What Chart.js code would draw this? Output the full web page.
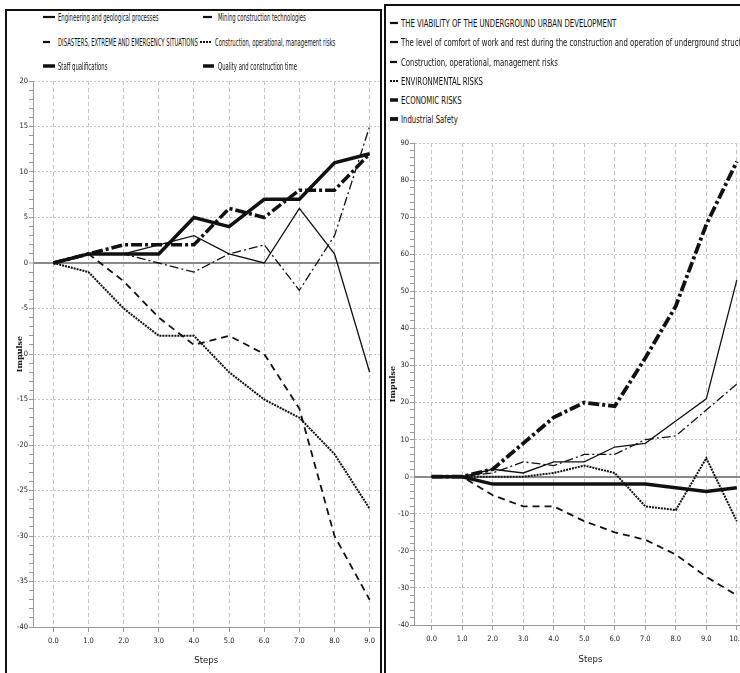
<!DOCTYPE html>
<html>
<head>
<meta charset="utf-8">
<script src="https://cdn.jsdelivr.net/npm/chart.js@4.4.0/dist/chart.umd.min.js"></script>
<style>
html, body { margin: 0; padding: 0; background: #fff; overflow: hidden; width: 740px; height: 673px; }
.panel { position: absolute; border: 2px solid #111; box-sizing: border-box; }
#panelL { left: 5px; top: 9px; width: 377px; height: 700px; }
#panelR { left: 384px; top: 4px; width: 420px; height: 700px; }
canvas { position: absolute; }
#chartL { left: 7px; top: 70px; }
#chartR { left: 387px; top: 130px; }
.leg { position: absolute; font-family: 'Liberation Sans Narrow', 'DejaVu Sans Condensed', sans-serif; color: #111; white-space: nowrap; }
.leg span { position: absolute; transform-origin: left center; }
.leg svg { position: absolute; overflow: visible; }
</style>
</head>
<body>
<div class="panel" id="panelL"></div>
<div class="panel" id="panelR"></div>
<canvas id="chartL" width="373" height="603"></canvas>
<canvas id="chartR" width="380" height="543"></canvas>
<div id="legends"></div>

<script>
// 左のグラフ
const stepsL = [0, 1, 2, 3, 4, 5, 6, 7, 8, 9];
const namesL = [
    'Engineering and geological processes',
    'Mining construction technologies',
    'DISASTERS, EXTREME AND EMERGENCY SITUATIONS',
    'Construction, operational, management risks',
    'Staff qualifications',
    'Quality and construction time'
];
const engineering = [0, 1, 1, 2, 3, 1, 0, 6, 1, -12];
const mining = [0, 1, 1, 0, -1, 1, 2, -3, 3, 15];
const disasters = [0, 1, -2, -6, -9, -8, -10, -16, -30, -37];
const constructionL = [0, -1, -5, -8, -8, -12, -15, -17, -21, -27];
const staff = [0, 1, 1, 1, 5, 4, 7, 7, 11, 12];
const quality = [0, 1, 2, 2, 2, 6, 5, 8, 8, 12];

// 右のグラフ
const stepsR = [0, 1, 2, 3, 4, 5, 6, 7, 8, 9, 10];
const namesR = [
    'THE VIABILITY OF THE UNDERGROUND URBAN DEVELOPMENT',
    'The level of comfort of work and rest during the construction and operation of underground structures',
    'Construction, operational, management risks',
    'ENVIRONMENTAL RISKS',
    'ECONOMIC RISKS',
    'Industrial Safety'
];
const viability = [0, 0, 2, 1, 4, 4, 8, 9, 15, 21, 53];
const comfort = [0, 0, 1, 4, 3, 6, 6, 10, 11, 18, 25];
const constructionR = [0, 0, -5, -8, -8, -12, -15, -17, -21, -27, -32];
const environmental = [0, 0, 0, 0, 1, 3, 1, -8, -9, 5, -12];
const economic = [0, 0, -2, -2, -2, -2, -2, -2, -3, -4, -3];
const industrial = [0, 0, 2, 9, 16, 20, 19, 32, 46, 68, 85];

// 線のスタイル
const stylesL = [
    { w: 1.3, dash: [] },
    { w: 1.3, dash: [9, 3, 2, 3] },
    { w: 1.8, dash: [7, 5] },
    { w: 2, dash: [2, 1] },
    { w: 3.5, dash: [] },
    { w: 3.5, dash: [11, 3, 3, 3] }
];
const stylesR = [
    { w: 1.3, dash: [] },
    { w: 1.3, dash: [9, 3, 2, 3] },
    { w: 1.8, dash: [7, 5] },
    { w: 2, dash: [2, 1] },
    { w: 3.5, dash: [] },
    { w: 3.8, dash: [11, 3, 3, 3] }
];

const FONT = "'Liberation Sans Narrow', 'DejaVu Sans Condensed', 'Liberation Sans', sans-serif";
Chart.defaults.font.family = FONT;
Chart.defaults.color = '#1a1a1a';

const makeDatasets = (names, series, styles) => series.map((values, i) => ({
    label: names[i],
    data: values,
    borderColor: '#111',
    borderWidth: styles[i].w,
    borderDash: styles[i].dash,
    pointRadius: 0,
    tension: 0,
    fill: false
}));

const isZero = (c) => c.tick && c.tick.value === 0;

const yScale = (min, max, step, major, width, titlePad) => ({
    min: min,
    max: max,
    afterFit: (s) => { s.width = width; },
    ticks: {
        stepSize: step,
        autoSkip: false,
        padding: 1,
        font: { size: 7.5 },
        callback: (v) => (v % major === 0 ? v : '')
    },
    grid: {
        color: (c) => {
            if (!c.tick) return '#c4c4c4';
            if (c.tick.value === 0) return '#8a8a8a';
            return c.tick.value % major === 0 ? '#c4c4c4' : 'rgba(0,0,0,0)';
        },
        lineWidth: (c) => (isZero(c) ? 2 : 1),
        tickColor: '#9a9a9a',
        tickWidth: 1,
        tickLength: 4
    },
    border: {
        color: '#9a9a9a',
        dash: (c) => (isZero(c) ? [] : [2, 2])
    },
    title: {
        display: true,
        text: 'Impulse',
        color: '#1a1a1a',
        font: { family: 'DejaVu Serif', size: 8, weight: 'bold' },
        padding: { top: titlePad, bottom: 0 }
    }
});

const xScale = (min, max, height, titlePad) => ({
    type: 'linear',
    min: min,
    max: max,
    afterFit: (s) => { s.height = height; },
    ticks: {
        stepSize: 1,
        includeBounds: false,
        autoSkip: false,
        maxRotation: 0,
        padding: 5,
        font: { size: 7.5 },
        callback: (v) => v.toFixed(1)
    },
    grid: {
        color: '#c4c4c4',
        tickColor: '#9a9a9a',
        tickLength: 5
    },
    border: {
        color: '#9a9a9a',
        dash: [4, 3]
    },
    title: {
        display: true,
        text: 'Steps',
        color: '#1a1a1a',
        font: { size: 9.5 },
        padding: { top: 0, bottom: titlePad }
    }
});

const makeChart = (id, steps, names, series, styles, scales, padTop) => new Chart(document.getElementById(id), {
    type: 'line',
    data: { labels: steps, datasets: makeDatasets(names, series, styles) },
    options: {
        responsive: false,
        animation: false,
        layout: { padding: { top: padTop, right: 0, bottom: 0, left: 0 } },
        plugins: { legend: { display: false }, tooltip: { enabled: false } },
        scales: scales
    }
});

makeChart('chartL', stepsL, namesL,
    [engineering, mining, disasters, constructionL, staff, quality], stylesL,
    { x: xScale(-0.58, 9.28, 46, 7), y: yScale(-40, 20, 1, 5, 26, 8) }, 11);

makeChart('chartR', stepsR, namesR,
    [viability, comfort, constructionR, environmental, economic, industrial], stylesR,
    { x: xScale(-0.58, 10.99, 48, 8), y: yScale(-40, 90, 2, 10, 27, 1) }, 13);

// 凡例（HTML）
const addLegend = (names, styles, pos, fontSize, squeeze, sampleW) => {
    const root = document.getElementById('legends');
    names.forEach((name, i) => {
        const [x, y] = pos[i];
        const item = document.createElement('div');
        item.className = 'leg';
        item.style.left = x + 'px';
        item.style.top = y + 'px';
        const w = Math.max(styles[i].w, 2.2);
        item.innerHTML = `
            <svg width="${sampleW}" height="8" style="left:0;top:-4px">
                <line x1="0" y1="4" x2="${sampleW}" y2="4" stroke="#111" stroke-width="${w}"
                      stroke-dasharray="${styles[i].dash.join(' ')}"/>
            </svg>
            <span style="left:${sampleW + 3}px;top:0;font-size:${fontSize}px;transform:translateY(-50%) scaleX(${squeeze})">${name}</span>
        `;
        root.appendChild(item);
    });
};

addLegend(namesL, stylesL,
    [[43, 17], [203, 17], [43, 42], [200, 42], [43, 66], [203, 66]], 10, 0.59, 12);
addLegend(namesR, stylesR,
    [[390, 23], [390, 42], [390, 62], [390, 81], [390, 100], [390, 119]], 11, 0.7, 8);
</script>
</body>
</html>
